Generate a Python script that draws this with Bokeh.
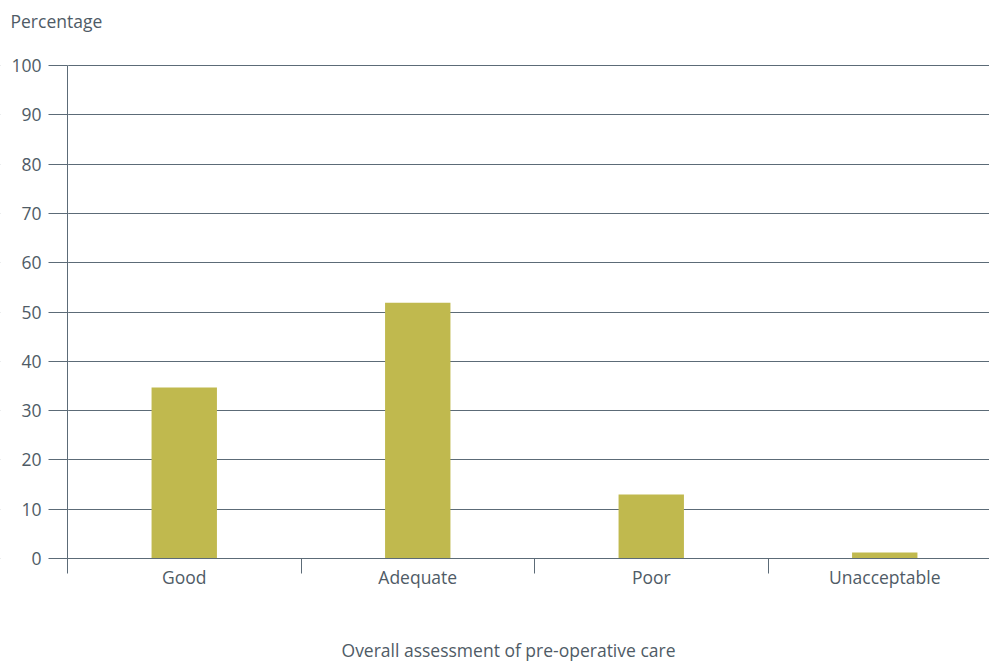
from bokeh.plotting import figure
from bokeh.models import Range1d, FixedTicker, Label, BoxAnnotation, ColumnDataSource
from bokeh.embed import file_html
from bokeh.resources import INLINE

categories = ["Good", "Adequate", "Poor", "Unacceptable"]
percentages = [34.7, 51.9, 13.0, 1.2]
y_ticks = [0, 10, 20, 30, 40, 50, 60, 70, 80, 90, 100]

TEXT = "#4f5b66"
LINE = "#5c6b77"
BAR = "#c0b94e"
FONT = "Open Sans"
FS = "17.5px"

W, H = 989, 661
# where the axes sit on the canvas, in pixels from the top-left corner
AX_LEFT, AX_ZERO, AX_TOP = 67, 558, 65
CAT_W = 233.5                      # pixels per category slot
PX_PER_PCT = (AX_ZERO - AX_TOP) / 100.0

centers = [i + 0.5 for i in range(len(categories))]
src = ColumnDataSource(dict(x=centers, top=percentages))

x_start = -AX_LEFT / CAT_W
# the plot frame covers the whole canvas; axes are pinned at x=0 / y=0
p = figure(width=W, height=H, output_backend="svg", toolbar_location=None,
           title=None, min_border=0,
           x_range=Range1d(x_start, (W - AX_LEFT) / CAT_W),
           y_range=Range1d(-(H - AX_ZERO) / PX_PER_PCT, 100 + AX_TOP / PX_PER_PCT))
p.outline_line_color = None
p.background_fill_color = "white"
p.border_fill_color = "white"

# horizontal grid, masked left of the y axis so only the tick marks stick out
p.xgrid.grid_line_color = None
p.ygrid.ticker = FixedTicker(ticks=y_ticks)
p.ygrid.grid_line_color = LINE
p.ygrid.grid_line_width = 1
p.add_layout(BoxAnnotation(left=x_start - 1, right=0, fill_color="white", fill_alpha=1,
                           line_color="white", line_width=2, level="underlay"))

p.vbar(x="x", top="top", width=0.28, source=src, color=BAR, line_color=None)

# y axis
ya = p.yaxis[0]
ya.fixed_location = 0
ya.bounds = (0, 100)
ya.ticker = FixedTicker(ticks=y_ticks)
ya.major_tick_out = 19
ya.major_tick_in = 0
ya.minor_tick_out = 0
ya.minor_tick_in = 0
ya.major_tick_line_color = LINE
ya.axis_line_color = LINE
ya.major_label_standoff = 7
ya.major_label_text_font = FONT
ya.major_label_text_font_size = FS
ya.major_label_text_color = TEXT

# x axis: labels at category centres, separators as minor ticks
xa = p.xaxis[0]
xa.fixed_location = 0
xa.bounds = (0, len(categories))
xa.ticker = FixedTicker(ticks=centers, minor_ticks=[0, 1, 2, 3])
xa.major_label_overrides = {c: n for c, n in zip(centers, categories)}
xa.major_tick_out = 0
xa.major_tick_in = 0
xa.minor_tick_out = 15
xa.minor_tick_in = 0
xa.minor_tick_line_color = LINE
xa.axis_line_color = LINE
xa.major_label_standoff = -9
xa.major_label_text_font = FONT
xa.major_label_text_font_size = FS
xa.major_label_text_color = TEXT

# axis titles (screen units, measured from the bottom-left corner)
p.add_layout(Label(x=10, y=H - 20, x_units="screen", y_units="screen",
                   text="Percentage", text_font=FONT, text_font_size=FS,
                   text_color=TEXT, text_baseline="middle"))
p.add_layout(Label(x=508, y=H - 649, x_units="screen", y_units="screen",
                   text="Overall assessment of pre-operative care", text_font=FONT,
                   text_font_size=FS, text_color=TEXT, text_align="center",
                   text_baseline="middle"))

open("out.html", "w").write(file_html(p, INLINE))
